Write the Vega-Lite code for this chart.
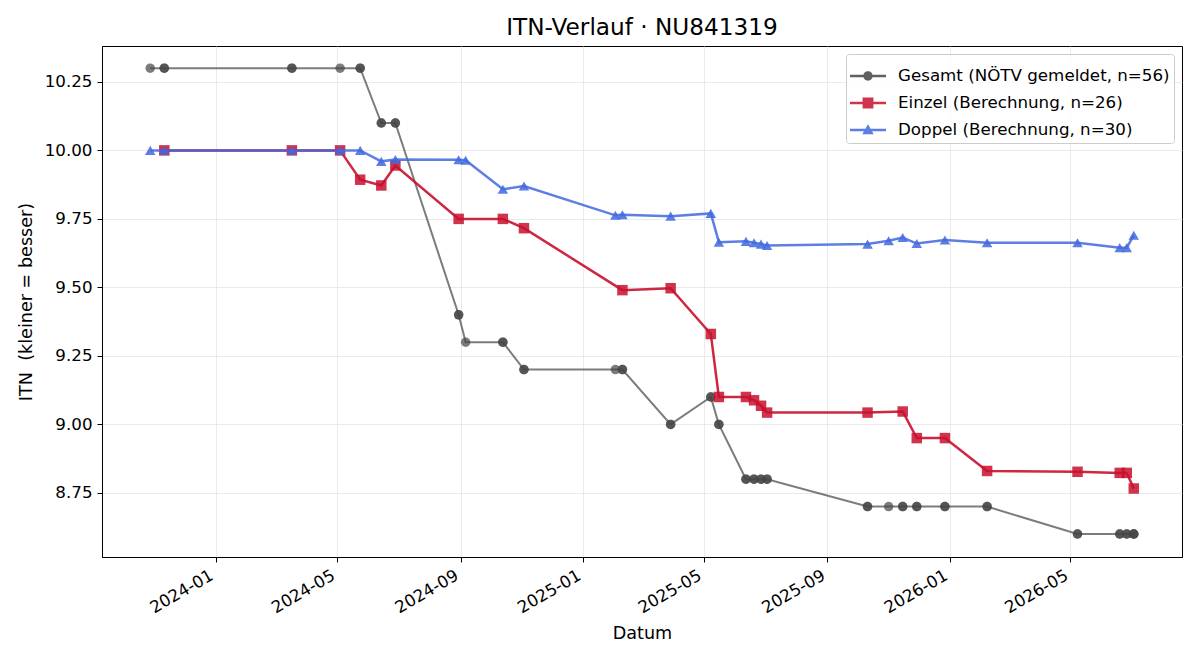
{
  "$schema": "https://vega.github.io/schema/vega-lite/v6.json",
  "width": 1080,
  "height": 511,
  "autosize": {"type": "none"},
  "padding": {"left": 102, "top": 46, "right": 18, "bottom": 103},
  "background": "white",
  "title": {"text": "ITN-Verlauf · NU841319", "font": "DejaVu Sans", "fontSize": 23.2, "fontWeight": "normal", "color": "black", "anchor": "middle", "offset": 6},
  "config": {
    "font": "DejaVu Sans",
    "view": {"stroke": "black", "strokeWidth": 1},
    "axis": {"domainColor": "black", "tickColor": "black", "tickSize": 5, "labelColor": "black", "labelFont": "DejaVu Sans", "labelFontSize": 16.7, "titleFont": "DejaVu Sans", "titleFontSize": 17.6, "titleFontWeight": "normal", "titleColor": "black", "gridColor": "#e4e4e4", "gridWidth": 0.8},
    "legend": {
      "title": null, "orient": "top-right", "offset": 8,
      "labelFont": "DejaVu Sans", "labelFontSize": 16.7, "labelColor": "black", "labelOffset": 12, "labelLimit": 0,
      "symbolSize": 1296, "symbolOpacity": 0.85, "symbolStrokeWidth": 0,
      "padding": 4, "rowPadding": 0, "strokeColor": "#cccccc", "fillColor": "rgba(255,255,255,0.85)", "cornerRadius": 3
    }
  },
  "data": {
    "values": [
      {"s": "Gesamt", "d": "2023-10-28", "v": 10.3},
      {"s": "Gesamt", "d": "2023-11-11", "v": 10.3},
      {"s": "Gesamt", "d": "2023-11-11", "v": 10.3},
      {"s": "Gesamt", "d": "2024-03-17", "v": 10.3},
      {"s": "Gesamt", "d": "2024-03-17", "v": 10.3},
      {"s": "Gesamt", "d": "2024-05-04", "v": 10.3},
      {"s": "Gesamt", "d": "2024-05-24", "v": 10.3},
      {"s": "Gesamt", "d": "2024-05-24", "v": 10.3},
      {"s": "Gesamt", "d": "2024-06-14", "v": 10.1},
      {"s": "Gesamt", "d": "2024-06-14", "v": 10.1},
      {"s": "Gesamt", "d": "2024-06-28", "v": 10.1},
      {"s": "Gesamt", "d": "2024-06-28", "v": 10.1},
      {"s": "Gesamt", "d": "2024-08-30", "v": 9.4},
      {"s": "Gesamt", "d": "2024-08-30", "v": 9.4},
      {"s": "Gesamt", "d": "2024-09-06", "v": 9.3},
      {"s": "Gesamt", "d": "2024-10-13", "v": 9.3},
      {"s": "Gesamt", "d": "2024-10-13", "v": 9.3},
      {"s": "Gesamt", "d": "2024-11-03", "v": 9.2},
      {"s": "Gesamt", "d": "2024-11-03", "v": 9.2},
      {"s": "Gesamt", "d": "2025-02-02", "v": 9.2},
      {"s": "Gesamt", "d": "2025-02-09", "v": 9.2},
      {"s": "Gesamt", "d": "2025-02-09", "v": 9.2},
      {"s": "Gesamt", "d": "2025-03-29", "v": 9.0},
      {"s": "Gesamt", "d": "2025-03-29", "v": 9.0},
      {"s": "Gesamt", "d": "2025-05-08", "v": 9.1},
      {"s": "Gesamt", "d": "2025-05-08", "v": 9.1},
      {"s": "Gesamt", "d": "2025-05-16", "v": 9.0},
      {"s": "Gesamt", "d": "2025-05-16", "v": 9.0},
      {"s": "Gesamt", "d": "2025-06-12", "v": 8.8},
      {"s": "Gesamt", "d": "2025-06-12", "v": 8.8},
      {"s": "Gesamt", "d": "2025-06-20", "v": 8.8},
      {"s": "Gesamt", "d": "2025-06-20", "v": 8.8},
      {"s": "Gesamt", "d": "2025-06-27", "v": 8.8},
      {"s": "Gesamt", "d": "2025-06-27", "v": 8.8},
      {"s": "Gesamt", "d": "2025-07-03", "v": 8.8},
      {"s": "Gesamt", "d": "2025-07-03", "v": 8.8},
      {"s": "Gesamt", "d": "2025-10-11", "v": 8.7},
      {"s": "Gesamt", "d": "2025-10-11", "v": 8.7},
      {"s": "Gesamt", "d": "2025-11-01", "v": 8.7},
      {"s": "Gesamt", "d": "2025-11-15", "v": 8.7},
      {"s": "Gesamt", "d": "2025-11-15", "v": 8.7},
      {"s": "Gesamt", "d": "2025-11-29", "v": 8.7},
      {"s": "Gesamt", "d": "2025-11-29", "v": 8.7},
      {"s": "Gesamt", "d": "2025-12-27", "v": 8.7},
      {"s": "Gesamt", "d": "2025-12-27", "v": 8.7},
      {"s": "Gesamt", "d": "2026-02-07", "v": 8.7},
      {"s": "Gesamt", "d": "2026-02-07", "v": 8.7},
      {"s": "Gesamt", "d": "2026-05-08", "v": 8.6},
      {"s": "Gesamt", "d": "2026-05-08", "v": 8.6},
      {"s": "Gesamt", "d": "2026-06-19", "v": 8.6},
      {"s": "Gesamt", "d": "2026-06-19", "v": 8.6},
      {"s": "Gesamt", "d": "2026-06-26", "v": 8.6},
      {"s": "Gesamt", "d": "2026-06-26", "v": 8.6},
      {"s": "Gesamt", "d": "2026-07-03", "v": 8.6},
      {"s": "Gesamt", "d": "2026-07-03", "v": 8.6},
      {"s": "Gesamt", "d": "2026-07-03", "v": 8.6},
      {"s": "Einzel", "d": "2023-11-11", "v": 10.0},
      {"s": "Einzel", "d": "2024-03-17", "v": 10.0},
      {"s": "Einzel", "d": "2024-05-04", "v": 10.0},
      {"s": "Einzel", "d": "2024-05-24", "v": 9.893},
      {"s": "Einzel", "d": "2024-06-14", "v": 9.872},
      {"s": "Einzel", "d": "2024-06-28", "v": 9.945},
      {"s": "Einzel", "d": "2024-08-30", "v": 9.75},
      {"s": "Einzel", "d": "2024-10-13", "v": 9.75},
      {"s": "Einzel", "d": "2024-11-03", "v": 9.716},
      {"s": "Einzel", "d": "2025-02-09", "v": 9.49},
      {"s": "Einzel", "d": "2025-03-29", "v": 9.497},
      {"s": "Einzel", "d": "2025-05-08", "v": 9.33},
      {"s": "Einzel", "d": "2025-05-16", "v": 9.1},
      {"s": "Einzel", "d": "2025-06-12", "v": 9.1},
      {"s": "Einzel", "d": "2025-06-20", "v": 9.088},
      {"s": "Einzel", "d": "2025-06-27", "v": 9.068},
      {"s": "Einzel", "d": "2025-07-03", "v": 9.043},
      {"s": "Einzel", "d": "2025-10-11", "v": 9.043},
      {"s": "Einzel", "d": "2025-11-15", "v": 9.047},
      {"s": "Einzel", "d": "2025-11-29", "v": 8.95},
      {"s": "Einzel", "d": "2025-12-27", "v": 8.95},
      {"s": "Einzel", "d": "2026-02-07", "v": 8.83},
      {"s": "Einzel", "d": "2026-05-08", "v": 8.827},
      {"s": "Einzel", "d": "2026-06-19", "v": 8.823},
      {"s": "Einzel", "d": "2026-06-26", "v": 8.823},
      {"s": "Einzel", "d": "2026-07-03", "v": 8.766},
      {"s": "Doppel", "d": "2023-10-28", "v": 10.0},
      {"s": "Doppel", "d": "2023-11-11", "v": 10.0},
      {"s": "Doppel", "d": "2024-03-17", "v": 10.0},
      {"s": "Doppel", "d": "2024-05-04", "v": 10.0},
      {"s": "Doppel", "d": "2024-05-24", "v": 10.0},
      {"s": "Doppel", "d": "2024-06-14", "v": 9.96},
      {"s": "Doppel", "d": "2024-06-28", "v": 9.967},
      {"s": "Doppel", "d": "2024-08-30", "v": 9.966},
      {"s": "Doppel", "d": "2024-09-06", "v": 9.964},
      {"s": "Doppel", "d": "2024-10-13", "v": 9.858},
      {"s": "Doppel", "d": "2024-11-03", "v": 9.87},
      {"s": "Doppel", "d": "2025-02-02", "v": 9.763},
      {"s": "Doppel", "d": "2025-02-09", "v": 9.765},
      {"s": "Doppel", "d": "2025-03-29", "v": 9.76},
      {"s": "Doppel", "d": "2025-05-08", "v": 9.77},
      {"s": "Doppel", "d": "2025-05-16", "v": 9.665},
      {"s": "Doppel", "d": "2025-06-12", "v": 9.668},
      {"s": "Doppel", "d": "2025-06-20", "v": 9.663},
      {"s": "Doppel", "d": "2025-06-27", "v": 9.658},
      {"s": "Doppel", "d": "2025-07-03", "v": 9.653},
      {"s": "Doppel", "d": "2025-10-11", "v": 9.658},
      {"s": "Doppel", "d": "2025-11-01", "v": 9.67},
      {"s": "Doppel", "d": "2025-11-15", "v": 9.682},
      {"s": "Doppel", "d": "2025-11-29", "v": 9.66},
      {"s": "Doppel", "d": "2025-12-27", "v": 9.673},
      {"s": "Doppel", "d": "2026-02-07", "v": 9.663},
      {"s": "Doppel", "d": "2026-05-08", "v": 9.663},
      {"s": "Doppel", "d": "2026-06-19", "v": 9.645},
      {"s": "Doppel", "d": "2026-06-26", "v": 9.645},
      {"s": "Doppel", "d": "2026-07-03", "v": 9.69}
    ]
  },
  "encoding": {
    "x": {
      "field": "d", "type": "temporal",
      "scale": {"domain": [{"year": 2023, "month": 9, "date": 10}, {"year": 2026, "month": 8, "date": 20}], "nice": false},
      "axis": {
        "values": [{"year": 2024, "month": 1, "date": 1}, {"year": 2024, "month": 5, "date": 1}, {"year": 2024, "month": 9, "date": 1}, {"year": 2025, "month": 1, "date": 1}, {"year": 2025, "month": 5, "date": 1}, {"year": 2025, "month": 9, "date": 1}, {"year": 2026, "month": 1, "date": 1}, {"year": 2026, "month": 5, "date": 1}],
        "format": "%Y-%m", "labelAngle": -30, "labelAlign": "right", "labelBaseline": "top", "labelOffset": -8, "labelPadding": 5,
        "labelFlush": false, "labelOverlap": false,
        "title": "Datum", "titleY": 76, "titleBaseline": "middle"
      }
    },
    "y": {
      "field": "v", "type": "quantitative",
      "scale": {"domain": [8.516, 10.381], "nice": false, "zero": false},
      "axis": {
        "values": [8.75, 9.0, 9.25, 9.5, 9.75, 10.0, 10.25], "format": ".2f", "labelPadding": 5,
        "title": "ITN\u00a0\u00a0(kleiner = besser)", "titleX": -76, "titleY": 255.5, "titleAngle": -90, "titleAlign": "center", "titleBaseline": "middle"
      }
    },
    "color": {
      "field": "s", "type": "nominal",
      "scale": {"domain": ["Gesamt", "Einzel", "Doppel"], "range": ["#444444", "#c8102e", "#4169e1"]},
      "legend": {
        "labelExpr": "datum.value == 'Gesamt' ? 'Gesamt (NÖTV gemeldet, n=56)' : datum.value == 'Einzel' ? 'Einzel (Berechnung, n=26)' : 'Doppel (Berechnung, n=30)'"
      }
    }
  },
  "layer": [
    {"transform": [{"filter": "datum.s == 'Gesamt'"}], "mark": {"type": "line", "strokeWidth": 2, "opacity": 0.7}},
    {"transform": [{"filter": "datum.s == 'Gesamt'"}], "mark": {"type": "point", "filled": true, "shape": "circle", "size": 90, "opacity": 0.7, "strokeWidth": 1}},
    {"transform": [{"filter": "datum.s == 'Einzel'"}], "mark": {"type": "line", "strokeWidth": 2.5, "opacity": 0.9}},
    {"transform": [{"filter": "datum.s == 'Einzel'"}], "mark": {"type": "point", "filled": true, "shape": "square", "size": 110, "opacity": 0.85, "strokeWidth": 1}},
    {"transform": [{"filter": "datum.s == 'Doppel'"}], "mark": {"type": "line", "strokeWidth": 2.5, "opacity": 0.85}},
    {"transform": [{"filter": "datum.s == 'Doppel'"}], "mark": {"type": "point", "filled": true, "shape": "triangle-up", "size": 110, "opacity": 0.85, "strokeWidth": 1}},
    {
      "mark": {"type": "point", "filled": true, "opacity": 0},
      "encoding": {
        "shape": {
          "field": "s", "type": "nominal",
          "scale": {"domain": ["Gesamt", "Einzel", "Doppel"], "range": [
            "M-1,-0.065H1V0.065H-1Z M-0.26,0A0.26,0.26,0,1,1,0.26,0A0.26,0.26,0,1,1,-0.26,0Z",
            "M-1,-0.075H1V0.075H-1Z M-0.3,-0.3H0.3V0.3H-0.3Z",
            "M-1,-0.075H1V0.075H-1Z M0,-0.32L0.32,0.24L-0.32,0.24Z"
          ]},
          "legend": {
            "labelExpr": "datum.value == 'Gesamt' ? 'Gesamt (NÖTV gemeldet, n=56)' : datum.value == 'Einzel' ? 'Einzel (Berechnung, n=26)' : 'Doppel (Berechnung, n=30)'"
          }
        }
      }
    }
  ]
}
